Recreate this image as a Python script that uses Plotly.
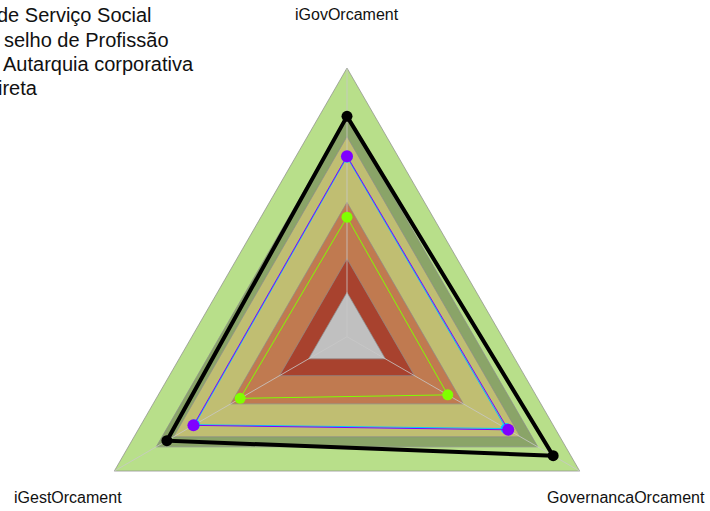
import numpy as np
import plotly.graph_objects as go

# radar axes (clockwise from the top)
axis_labels = ["iGovOrcament", "GovernancaOrcament", "iGestOrcament"]
axis_angles = [90, -30, 210]

# background bands: outer limit of each band and its colour
band_limits = [1.0, 0.82, 0.745, 0.5, 0.29, 0.165]
band_colors = ["#b8df8a", "#8aa468", "#c0be72", "#c07a50", "#a8422e", "#c0c0c0"]

# series values (share of the full scale)
black_vals = [0.82, 0.886, 0.774]
cyan_vals = [0.668, 0.684, 0.655]
purple_vals = [0.672, 0.693, 0.66]
green_vals = [0.445, 0.433, 0.459]

title_lines = ["de Serviço Social", "selho de Profissão", "Autarquia corporativa", "ireta"]


def to_xy(values, closed=True):
    r = np.asarray(values, dtype=float)
    t = np.radians(axis_angles)
    x = r * np.cos(t)
    y = r * np.sin(t)
    if closed:
        x = np.append(x, x[0])
        y = np.append(y, y[0])
    return x, y


fig = go.Figure()

for lim, col in zip(band_limits, band_colors):
    x, y = to_xy([lim] * 3)
    fig.add_trace(go.Scatter(x=x, y=y, mode="lines", fill="toself", fillcolor=col,
                             line=dict(color="rgba(140,140,140,0.7)", width=1),
                             hoverinfo="skip"))

# spokes
for ang in axis_angles:
    fig.add_trace(go.Scatter(x=[0, np.cos(np.radians(ang))], y=[0, np.sin(np.radians(ang))],
                             mode="lines", line=dict(color="rgba(200,200,200,0.8)", width=1),
                             hoverinfo="skip"))

series = [
    (black_vals, "black", 4, 11),
    (cyan_vals, "#00c8ff", 1, 11),
    (purple_vals, "#8000ff", 1, 12),
    (green_vals, "#80ff00", 1, 11),
]
for vals, col, lw, ms in series:
    x, y = to_xy(vals)
    fig.add_trace(go.Scatter(x=x, y=y, mode="lines", line=dict(color=col, width=lw)))
    fig.add_trace(go.Scatter(x=x[:-1], y=y[:-1], mode="markers",
                             marker=dict(color=col, size=ms)))

# axis names
lx, ly = to_xy([1.2] * 3, closed=False)
for lab, xx, yy in zip(axis_labels, lx, ly):
    fig.add_annotation(x=xx, y=yy, text=lab, showarrow=False,
                       xanchor="center", yanchor="middle",
                       font=dict(size=16, color="#111111"))

# title (cut by the left border), each line anchored on its right end
title_y = [15, 39.5, 64, 88.5]
title_right = [153, 170, 195, 39]
for txt, py, rx in zip(title_lines, title_y, title_right):
    fig.add_annotation(x=0, y=1 - py / 511, xref="paper", yref="paper", text=txt,
                       showarrow=False, xanchor="right", yanchor="middle", xshift=rx + 1,
                       font=dict(size=20, color="#111111"))

fig.update_layout(
    width=710, height=511,
    margin=dict(l=0, r=0, t=0, b=0),
    paper_bgcolor="white", plot_bgcolor="white",
    showlegend=False,
    font=dict(family="Arial, Liberation Sans, sans-serif"),
    xaxis=dict(range=[-1.2914, 1.3510], visible=False),
    yaxis=dict(range=[-0.6487, 1.2531], visible=False),
)

# page without the default body margin so the chart sits at the window corner
fig.write_html("out.html", config={"displayModeBar": False},
               post_script="document.body.style.margin='0';")
